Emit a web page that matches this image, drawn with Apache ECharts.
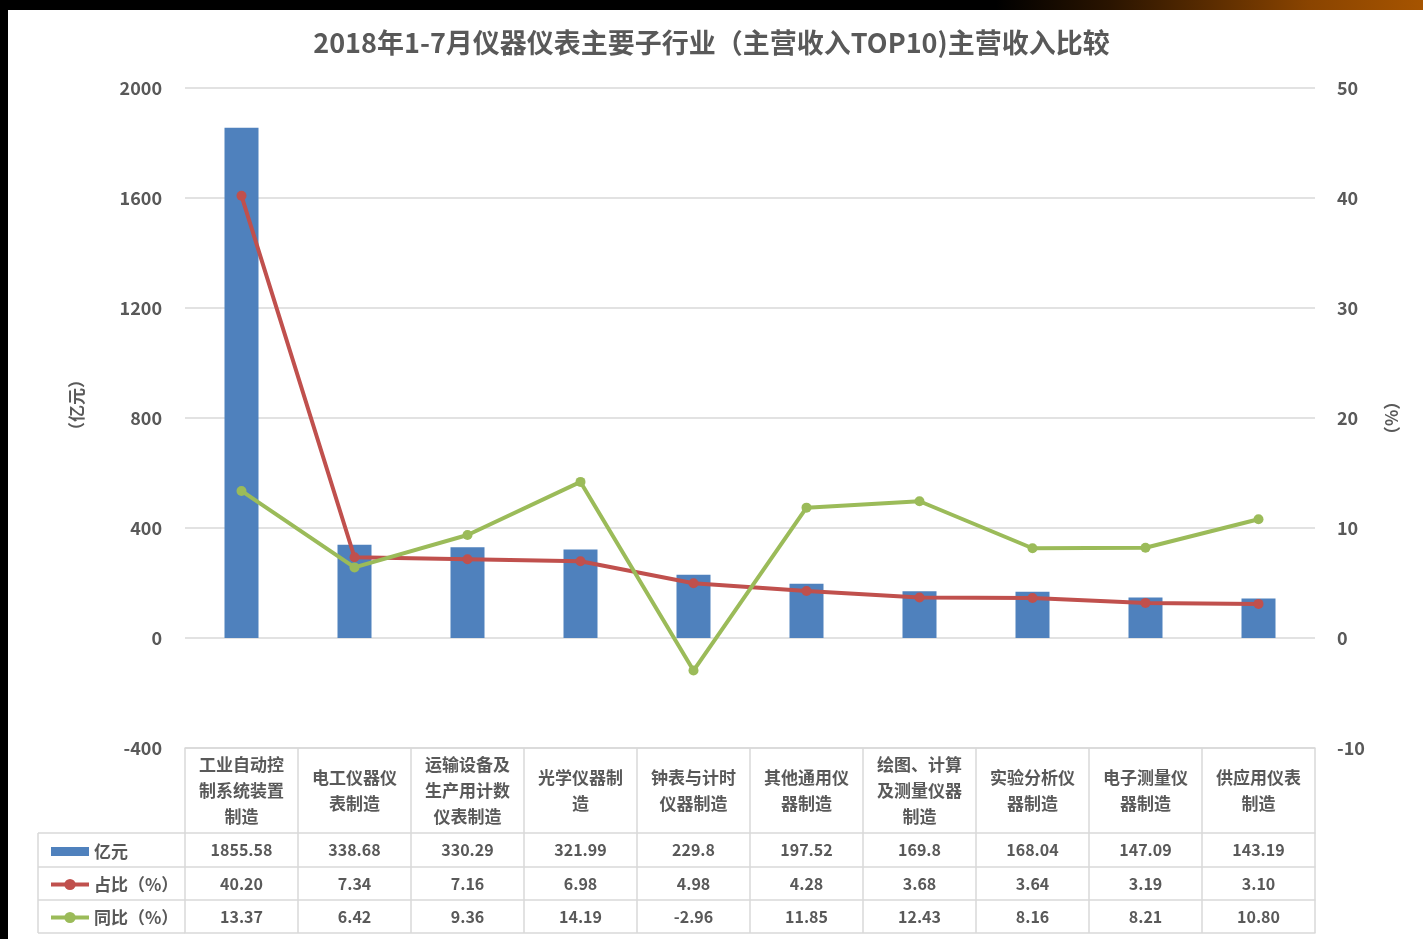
<!DOCTYPE html>
<html><head><meta charset="utf-8">
<script src="https://cdn.jsdelivr.net/npm/echarts@6/dist/echarts.min.js"></script>
<style>html,body{margin:0;padding:0;background:#fff}#c{width:1423px;height:939px}</style>
</head><body><div id="c"></div>
<script>
const categories = ['工业自动控制系统装置制造','电工仪器仪表制造','运输设备及生产用计数仪表制造','光学仪器制造','钟表与计时仪器制造','其他通用仪器制造','绘图、计算及测量仪器制造','实验分析仪器制造','电子测量仪器制造','供应用仪表制造'];
const revenue = [1855.58, 338.68, 330.29, 321.99, 229.8, 197.52, 169.8, 168.04, 147.09, 143.19];
const share = [40.20, 7.34, 7.16, 6.98, 4.98, 4.28, 3.68, 3.64, 3.19, 3.10];
const yoy = [13.37, 6.42, 9.36, 14.19, -2.96, 11.85, 12.43, 8.16, 8.21, 10.80];
const seriesNames = ['亿元', '占比（%）', '同比（%）'];
const leftAxis = {min: -400, max: 2000, interval: 400};
const rightAxis = {min: -10, max: 50, interval: 10};

const FONT = '"Noto Sans CJK SC","Noto Sans",sans-serif';
const TXT = '#595959';
const LINE = '#d9d9d9';

function wrap(s){ let out=[]; for(let i=0;i<s.length;i+=5) out.push(s.slice(i,i+5)); return out.join('\n'); }

const chart = echarts.init(document.getElementById('c'), null, {renderer:'canvas'});
const rowAxis = (data, offset, showLabel) => ({
  type:'category', data: data, position:'bottom', offset: offset, gridIndex:0,
  axisLine:{show:true, onZero:false, lineStyle:{color:LINE, width:1.5}},
  axisTick:{show:false},
  axisLabel:{show:showLabel, interval:0, margin:17, verticalAlign:'middle', fontSize:16, fontWeight:'bold', color:TXT, fontFamily:FONT},
  splitLine:{show:false}
});

chart.setOption({
  backgroundColor:'#fff',
  textStyle:{fontFamily:FONT},
  title:{text:'2018年1-7月仪器仪表主要子行业（主营收入TOP10)主营收入比较', left:'center', top:24,
    textStyle:{fontSize:27, fontWeight:'bold', color:TXT, fontFamily:FONT}},
  grid:{left:185, right:108, top:88, bottom:191},
  legend:{orient:'vertical', left:44, top:838, itemWidth:38, itemHeight:14, itemGap:16,
    textStyle:{fontSize:17, fontWeight:'bold', color:TXT, fontFamily:FONT},
    lineStyle:{width:4},
    data:[{name:seriesNames[0], icon:'path://M0,0 L38,0 L38,9 L0,9 Z'}, seriesNames[1], seriesNames[2]]},
  xAxis:[
    {type:'category', data:categories, position:'bottom', gridIndex:0,
     axisLine:{show:true, onZero:false, lineStyle:{color:LINE, width:1.5}},
     axisTick:{show:true, interval:0, length:185, lineStyle:{color:LINE, width:1.5}},
     axisLabel:{interval:0, margin:43, verticalAlign:'middle', lineHeight:26, fontSize:17, fontWeight:'bold', color:TXT, fontFamily:FONT, formatter:wrap},
     splitLine:{show:false}},
    rowAxis(revenue.map(v=>String(v)), 85, true),
    rowAxis(share.map(v=>v.toFixed(2)), 119, true),
    rowAxis(yoy.map(v=>v.toFixed(2)), 152, true),
    rowAxis(categories, 185, false)
  ],
  yAxis:[
    {type:'value', min:leftAxis.min, max:leftAxis.max, interval:leftAxis.interval, position:'left',
     name:'（亿元）', nameLocation:'middle', nameGap:100, nameRotate:90,
     nameTextStyle:{fontSize:17, fontWeight:'bold', color:TXT, fontFamily:FONT, padding:[0,0,0,26]},
     axisLine:{show:false}, axisTick:{show:false},
     axisLabel:{margin:23, fontSize:18, fontWeight:'bold', color:TXT, fontFamily:FONT, formatter:v=>String(v)},
     splitLine:{lineStyle:{color:LINE, width:1.5}}},
    {type:'value', min:rightAxis.min, max:rightAxis.max, interval:rightAxis.interval, position:'right',
     name:'（%）', nameLocation:'middle', nameGap:68, nameRotate:-90,
     nameTextStyle:{fontSize:17, fontWeight:'bold', color:TXT, fontFamily:FONT},
     axisLine:{show:false}, axisTick:{show:false},
     axisLabel:{margin:22, fontSize:18, fontWeight:'bold', color:TXT, fontFamily:FONT, formatter:v=>String(v)},
     splitLine:{show:false}}
  ],
  series:[
    {name:seriesNames[0], type:'bar', data:revenue, xAxisIndex:0, yAxisIndex:0, barWidth:34,
     itemStyle:{color:'#4F81BD'}},
    {name:seriesNames[1], type:'line', data:share, xAxisIndex:0, yAxisIndex:1,
     symbol:'circle', symbolSize:10, itemStyle:{color:'#C0504D'}, lineStyle:{color:'#C0504D', width:4}},
    {name:seriesNames[2], type:'line', data:yoy, xAxisIndex:0, yAxisIndex:1,
     symbol:'circle', symbolSize:10, itemStyle:{color:'#9BBB59'}, lineStyle:{color:'#9BBB59', width:4}}
  ],
  graphic:[
    {type:'rect', silent:true, z:100, shape:{x:0,y:0,width:8,height:939}, style:{fill:'#000'}},
    {type:'rect', silent:true, z:100, shape:{x:0,y:0,width:1423,height:10},
     style:{fill:new echarts.graphic.LinearGradient(0,0,1,0,[{offset:0,color:'#000'},{offset:0.7,color:'#000'},{offset:0.78,color:'#2a1400'},{offset:0.92,color:'#8a4400'},{offset:1,color:'#a65400'}])}},
    {type:'line', silent:true, shape:{x1:38,y1:833,x2:185,y2:833}, style:{stroke:LINE, lineWidth:1.5}},
    {type:'line', silent:true, shape:{x1:38,y1:867,x2:185,y2:867}, style:{stroke:LINE, lineWidth:1.5}},
    {type:'line', silent:true, shape:{x1:38,y1:900,x2:185,y2:900}, style:{stroke:LINE, lineWidth:1.5}},
    {type:'line', silent:true, shape:{x1:38,y1:933,x2:185,y2:933}, style:{stroke:LINE, lineWidth:1.5}},
    {type:'line', silent:true, shape:{x1:38,y1:833,x2:38,y2:933}, style:{stroke:LINE, lineWidth:1.5}}
  ]
});
</script></body></html>
